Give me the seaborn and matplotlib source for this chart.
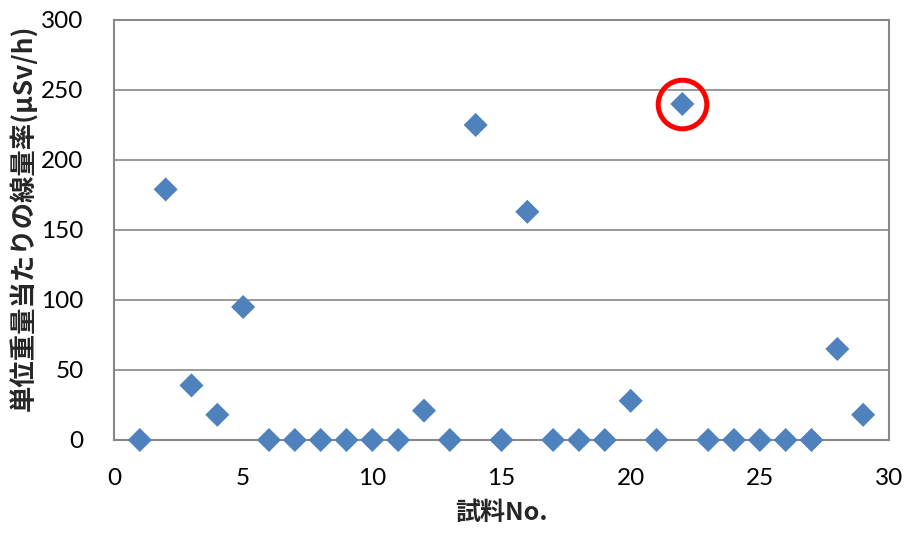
import numpy as np
import pandas as pd
import matplotlib
matplotlib.use("Agg")
import matplotlib.pyplot as plt
from matplotlib.ticker import MultipleLocator
import seaborn as sns

# data
sample_no = list(range(1, 30))
dose_rate = [0, 179, 39, 18, 95, 0, 0, 0, 0, 0,
             0, 21, 0, 225, 0, 163, 0, 0, 0, 28,
             0, 240, 0, 0, 0, 0, 0, 65, 18]
highlight_no = [22]
highlight_val = [240]

x_label = "試料No."
y_label = "単位重量当たりの線量率(μSv/h)"

sns.set_style("white")
plt.rcParams["font.family"] = ["Lato", "Noto Sans CJK JP", "DejaVu Sans"]

df = pd.DataFrame({"no": sample_no, "rate": dose_rate})

fig = plt.figure(figsize=(9.09, 5.33), dpi=100)
ax = fig.add_axes([0.1254, 0.1745, 0.8526, 0.788])

sns.scatterplot(data=df, x="no", y="rate", ax=ax, marker="D", s=150,
                color="#4F81BD", edgecolor="none", zorder=3, clip_on=False)
ax.plot(highlight_no, highlight_val, marker="o", markersize=35, markerfacecolor="none",
        markeredgecolor="#FF0000", markeredgewidth=3.6, linestyle="none", zorder=4)

ax.set_xlim(0, 30)
ax.set_ylim(0, 300)
ax.xaxis.set_major_locator(MultipleLocator(5))
ax.xaxis.set_minor_locator(MultipleLocator(1))
ax.yaxis.set_major_locator(MultipleLocator(50))
ax.yaxis.set_minor_locator(MultipleLocator(10))

ax.grid(axis="y", which="major", color="#888888", linewidth=1.2)
ax.set_axisbelow(True)
for side in ["left", "right", "top", "bottom"]:
    ax.spines[side].set_color("#888888")
    ax.spines[side].set_linewidth(1.5)

ax.tick_params(axis="both", which="both", direction="in", color="#888888",
               width=1.2, labelsize=17.5, labelcolor="black")
ax.tick_params(axis="x", which="major", length=6, pad=20)
ax.tick_params(axis="x", which="minor", length=6)
ax.tick_params(axis="y", which="major", length=0, pad=22)
ax.tick_params(axis="y", which="minor", length=6)
ax.tick_params(right=False, top=False, which="both")

ax.set_xlabel(x_label, fontsize=18, fontweight="bold",
              family=["Noto Sans CJK JP", "DejaVu Sans"])
ax.set_ylabel(y_label, fontsize=19, fontweight="bold",
              family=["Noto Sans CJK JP", "DejaVu Sans"])
ax.xaxis.set_label_coords(0.5, -0.145)
ax.yaxis.set_label_coords(-0.097, 0.53)

fig.savefig("out.png", dpi=100)
